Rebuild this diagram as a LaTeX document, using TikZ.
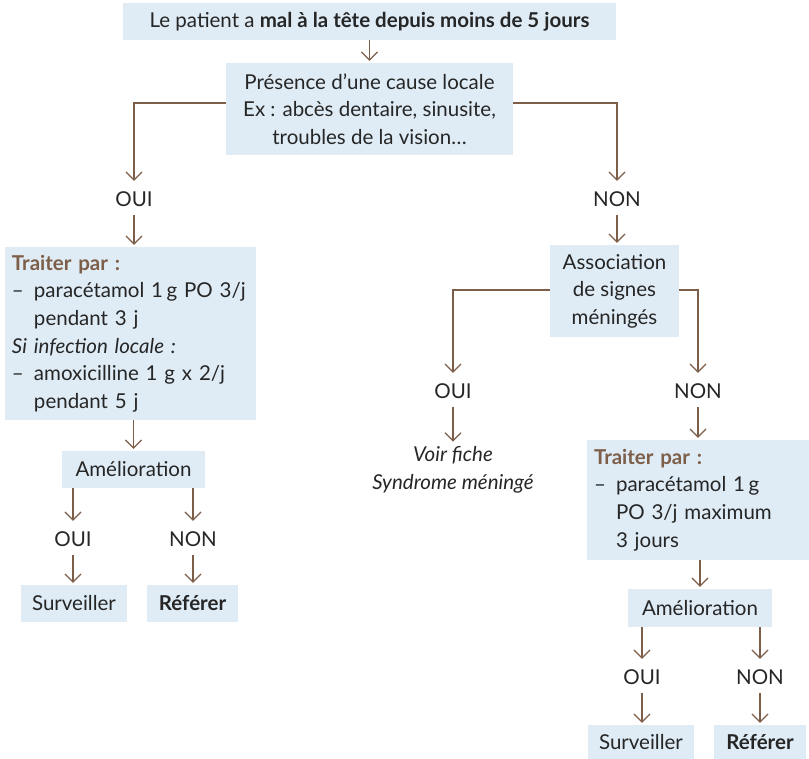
\documentclass[tikz,border=0pt]{standalone}
\usepackage{fontspec}
\setmainfont{Lato}
\usetikzlibrary{positioning,arrows.meta}
\definecolor{boxblue}{RGB}{223,236,245}
\definecolor{arrbrown}{RGB}{125,94,72}
\definecolor{txtgray}{RGB}{38,38,38}
\newcommand{\tiret}{\makebox[22pt][l]{--}}
\newcommand{\retrait}{\hspace*{22pt}}

\begin{document}
\begin{tikzpicture}[
                x=1pt, y=-1pt,
                every node/.style={font=\fontsize{20.5}{27.6}\selectfont, text=txtgray},
                box/.style={fill=boxblue, inner xsep=9pt, inner ysep=4pt, align=center},
                treat/.style={box, inner xsep=7pt, align=left},
                ans/.style={inner sep=0pt, minimum height=32pt},
                arr/.style={draw=arrbrown, line width=1.2pt, -{Straight Barb[length=8pt,width=16pt]}, shorten >=2pt}
            ]
                \useasboundingbox (0,0) rectangle (809,759);
                % tronc commun
                \node [box, minimum width=493pt, minimum height=37pt] (start) at (369.5,21.5) {Le patient a \textbf{mal à la tête depuis moins de 5 jours}};
                \node [box, minimum width=287pt, minimum height=92pt] (cause) at (369.5,109) {Présence d’une cause locale\\Ex : abcès dentaire, sinusite,\\troubles de la vision…};
                \node [ans] (oui1) at (134,199) {OUI};
                \node [ans] (non1) at (617,199) {NON};
                % branche gauche
                \node [treat, text width=237pt, minimum height=173pt] (trait1) at (130.5,333.5) {\textcolor{arrbrown}{\textbf{Traiter par :}}\\
                    \tiret paracétamol 1\,g PO 3/j\\
                    \retrait pendant 3 j\\
                    \textit{Si infection locale :}\\
                    \tiret amoxicilline 1 g x 2/j\\
                    \retrait pendant 5 j};
                \node [box, minimum width=143pt, minimum height=37pt] (amel1) at (133.5,469.5) {Amélioration};
                \node [ans] (oui2) at (73,539) {OUI};
                \node [ans] (non2) at (193,539) {NON};
                \node [box, minimum width=106pt, minimum height=37pt] (surv1) at (74,603.5) {Surveiller};
                \node [box, minimum width=91pt, minimum height=37pt] (ref1) at (192.5,603.5) {\textbf{Référer}};
                % branche droite
                \node [box, minimum width=129pt, minimum height=92pt] (assoc) at (614.5,291) {Association\\de signes\\méningés};
                \node [ans] (oui3) at (453,391) {OUI};
                \node [ans] (non3) at (698,391) {NON};
                \node [align=center, inner sep=3pt] (fiche) at (453,470) {\textit{Voir fiche}\\\textit{Syndrome méningé}};
                \node [treat, text width=208pt, minimum height=120pt] (trait2) at (698,500) {\textcolor{arrbrown}{\textbf{Traiter par :}}\\
                    \tiret paracétamol 1\,g\\
                    \retrait PO 3/j maximum\\
                    \retrait 3 jours};
                \node [box, minimum width=144pt, minimum height=38pt] (amel2) at (700,608) {Amélioration};
                \node [ans] (oui4) at (642,677) {OUI};
                \node [ans] (non4) at (760,677) {NON};
                \node [box, minimum width=106pt, minimum height=34pt] (surv2) at (641,742) {Surveiller};
                \node [box, minimum width=92pt, minimum height=34pt] (ref2) at (760,742) {\textbf{Référer}};
                % fleches
                \draw [arr] (start) -- (cause);
                \draw [arr] ([yshift=6pt]cause.west) -| (oui1);
                \draw [arr] ([yshift=6pt]cause.east) -| (non1);
                \draw [arr] (oui1) -- (oui1 |- trait1.north);
                \draw [arr] (trait1.south -| amel1.north) -- (amel1.north);
                \foreach \m/\a/\b in {amel1/oui2/surv1,amel1/non2/ref1,amel2/oui4/surv2,amel2/non4/ref2} {
                    \draw [arr] (\m.south -| \a) -- (\a);
                    \draw [arr] (\a) -- (\a |- \b.north);
                }
                \draw [arr] (non1) -- (non1 |- assoc.north);
                \draw [arr] ([yshift=1pt]assoc.west) -| (oui3);
                \draw [arr] ([yshift=1pt]assoc.east) -| (non3);
                \draw [arr] (oui3) -- (fiche);
                \draw [arr] (non3) -- (non3 |- trait2.north);
                \draw [arr] (trait2.south -| amel2.north) -- (amel2.north);
            \end{tikzpicture}
\end{document}
